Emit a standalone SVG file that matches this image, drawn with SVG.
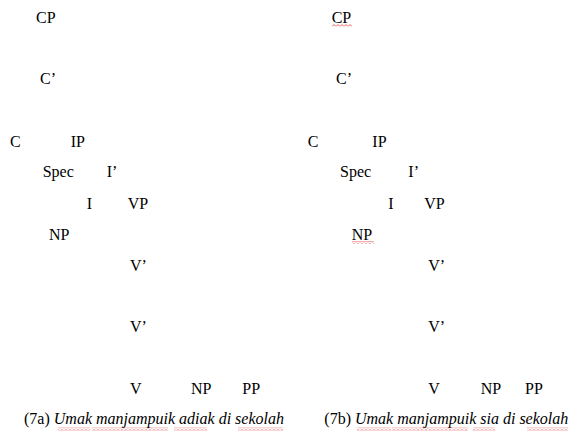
<svg xmlns="http://www.w3.org/2000/svg" width="569" height="432" viewBox="0 0 569 432">
<style>
text{font-family:"Liberation Serif","Times New Roman",serif;font-size:16px;fill:#000}
.it{font-style:italic}
.sq{fill:url(#sq)}
</style>
<defs>
<pattern id="sq" width="4" height="3" patternUnits="userSpaceOnUse">
<path d="M0,2.5 L2,0.5 L4,2.5" fill="none" stroke="#e03030" stroke-width="0.8"/>
</pattern>
</defs>
<rect width="569" height="432" fill="#fff"/>
<g id="tree-a">
<g id="a-CP"><text x="36" y="23">CP</text></g>
<g id="a-Cbar"><text x="40" y="84">C’</text></g>
<g id="a-C"><text x="10" y="147">C</text></g>
<g id="a-IP"><text x="70.7" y="147">IP</text></g>
<g id="a-Spec"><text x="42.7" y="177">Spec</text></g>
<g id="a-Ibar"><text x="106.7" y="177">I’</text></g>
<g id="a-I"><text x="86.7" y="209">I</text></g>
<g id="a-VP"><text x="127.7" y="209">VP</text></g>
<g id="a-NP1"><text x="49" y="240">NP</text></g>
<g id="a-Vbar1"><text x="130" y="271">V’</text></g>
<g id="a-Vbar2"><text x="130" y="332">V’</text></g>
<g id="a-V"><text x="130" y="394">V</text></g>
<g id="a-NP2"><text x="191" y="394">NP</text></g>
<g id="a-PP"><text x="242.3" y="394">PP</text></g>
<g id="a-caption"><text x="24" y="424">(7a) <tspan class="it">Umak manjampuik adiak di sekolah</tspan></text>
<rect class="sq" x="58" y="427.5" width="32" height="3"/>
<rect class="sq" x="92" y="427.5" width="76" height="3"/>
<rect class="sq" x="174" y="427.5" width="33" height="3"/>
<rect class="sq" x="238" y="427.5" width="45" height="3"/>
</g>
</g>
<g id="tree-b">
<g id="b-CP"><text x="331.7" y="23">CP</text><rect class="sq" x="332" y="24" width="20" height="3"/></g>
<g id="b-Cbar"><text x="336" y="84">C’</text></g>
<g id="b-C"><text x="307.7" y="147">C</text></g>
<g id="b-IP"><text x="372.3" y="147">IP</text></g>
<g id="b-Spec"><text x="340" y="177">Spec</text></g>
<g id="b-Ibar"><text x="408.3" y="177">I’</text></g>
<g id="b-I"><text x="388.3" y="209">I</text></g>
<g id="b-VP"><text x="424.3" y="209">VP</text></g>
<g id="b-NP1"><text x="351.7" y="240">NP</text><rect class="sq" x="352" y="241" width="22" height="3"/></g>
<g id="b-Vbar1"><text x="428.3" y="271">V’</text></g>
<g id="b-Vbar2"><text x="428.3" y="332">V’</text></g>
<g id="b-V"><text x="428.3" y="394">V</text></g>
<g id="b-NP2"><text x="480.7" y="394">NP</text></g>
<g id="b-PP"><text x="525" y="394">PP</text></g>
<g id="b-caption"><text x="324.3" y="424">(7b) <tspan class="it">Umak manjampuik sia di sekolah</tspan></text>
<rect class="sq" x="357" y="427.5" width="34" height="3"/>
<rect class="sq" x="392" y="427.5" width="76" height="3"/>
<rect class="sq" x="473" y="427.5" width="22" height="3"/>
<rect class="sq" x="527" y="427.5" width="41" height="3"/>
</g>
</g>
</svg>
